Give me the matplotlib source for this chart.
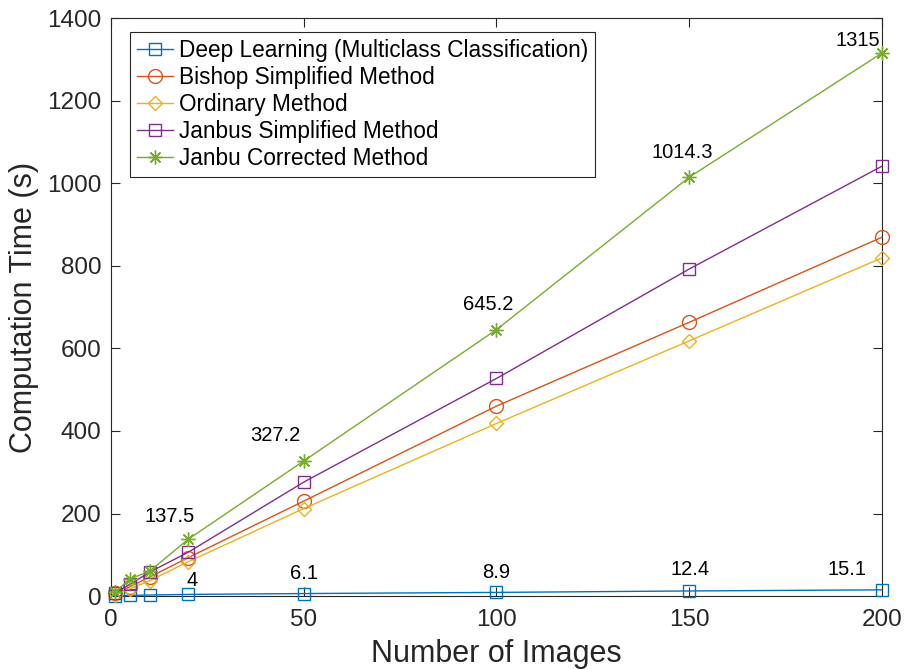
import matplotlib
matplotlib.use("Agg")
import matplotlib.pyplot as plt

plt.rcParams['font.family'] = ['Liberation Sans', 'DejaVu Sans']

# Number of images processed
n_images = [1, 5, 10, 20, 50, 100, 150, 200]

# Computation time (s) for each method
deep_learning = [0.6, 1.5, 2.6, 4, 6.1, 8.9, 12.4, 15.1]
bishop = [7, 23, 46, 93, 230, 460, 663, 869]
ordinary = [3, 18, 37, 83, 212, 418, 618, 819]
janbus = [8, 29, 58, 106, 276, 527, 792, 1041]
janbu_corrected = [10, 42, 60, 137.5, 327.2, 645.2, 1014.3, 1315]

series_names = [
    "Deep Learning (Multiclass Classification)",
    "Bishop Simplified Method",
    "Ordinary Method",
    "Janbus Simplified Method",
    "Janbu Corrected Method",
]

x_ticks = [0, 50, 100, 150, 200]
y_ticks = [0, 200, 400, 600, 800, 1000, 1200, 1400]

# Indices of the points that get value labels
labelled = [3, 4, 5, 6, 7]

colors = ["#0072BD", "#D95319", "#EDB120", "#7E2F8E", "#77AC30"]
markers = ["s", "o", "D", "s", (8, 2, 0)]
msizes = [8.5, 10, 7.5, 9, 10]

fig = plt.figure(figsize=(9.1, 6.69), dpi=100)
ax = fig.add_axes([0.122, 0.109, 0.847, 0.864])

all_series = [deep_learning, bishop, ordinary, janbus, janbu_corrected]
for vals, name, c, m, ms in zip(all_series, series_names, colors, markers, msizes):
    ax.plot(n_images, vals, color=c, marker=m, markersize=ms, linewidth=1.0,
            markerfacecolor="none", markeredgecolor=c, markeredgewidth=1.0,
            label=name, clip_on=False, zorder=3)

# Value labels (pixel offsets from each point)
green_offsets = [(-18, 23), (-28, 25), (-8, 25), (-7, 25), (-24, 13)]
blue_offsets = [(4, 14), (0, 20), (0, 20), (1, 21), (-35, 20)]
for i, off in zip(labelled, green_offsets):
    ax.annotate(f"{janbu_corrected[i]:g}", xy=(n_images[i], janbu_corrected[i]),
                xytext=off, textcoords="offset pixels", ha="center", va="center",
                fontsize=14.5, color="black", annotation_clip=False)
for i, off in zip(labelled, blue_offsets):
    ax.annotate(f"{deep_learning[i]:g}", xy=(n_images[i], deep_learning[i]),
                xytext=off, textcoords="offset pixels", ha="center", va="center",
                fontsize=14.5, color="black", annotation_clip=False)

ax.set_xlim(0, 200)
ax.set_ylim(0, 1400)
ax.set_xticks(x_ticks)
ax.set_yticks(y_ticks)
ax.tick_params(direction="in", top=True, right=True, length=6.5, width=0.8,
               colors="#262626", labelsize=17.5)
ax.tick_params(axis="x", pad=9)
ax.tick_params(axis="y", pad=7)
for s in ax.spines.values():
    s.set_color("#262626")
    s.set_linewidth(0.8)

ax.set_xlabel("Number of Images", fontsize=22, color="#262626", labelpad=6)
ax.set_ylabel("Computation Time (s)", fontsize=22, color="#262626", labelpad=6)

leg = ax.legend(loc="upper left", bbox_to_anchor=(0.0246, 0.9758), borderaxespad=0,
                fontsize=16.3, handlelength=1.6, handletextpad=0.25, labelspacing=0.18,
                borderpad=0.3, fancybox=False, framealpha=1, edgecolor="#262626",
                numpoints=1)
leg.get_frame().set_linewidth(0.8)

fig.savefig("out.png", dpi=100)
